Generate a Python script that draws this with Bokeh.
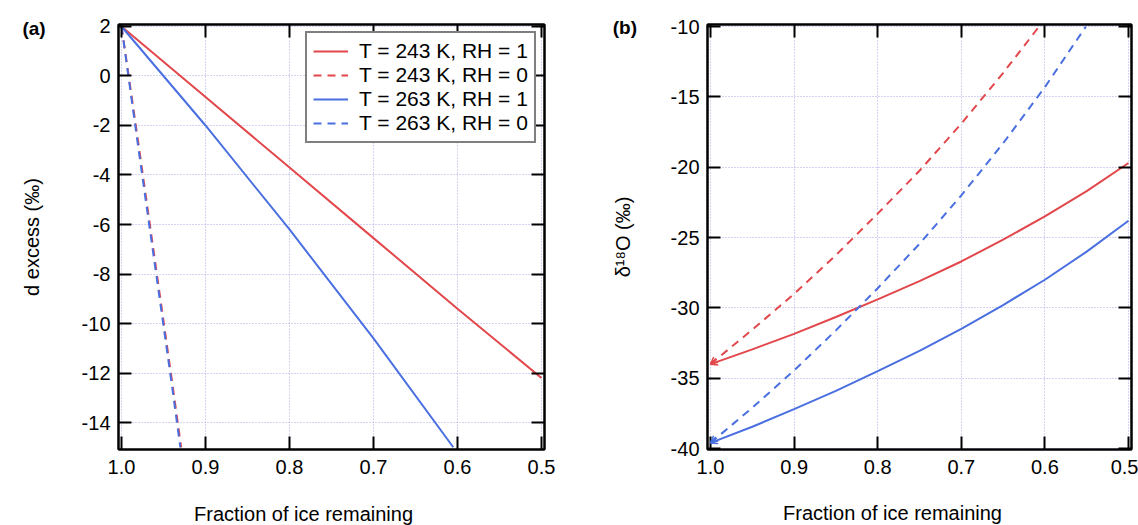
from bokeh.plotting import figure
from bokeh.layouts import row
from bokeh.models import (Range1d, FixedTicker, LinearAxis, NumeralTickFormatter,
                          CustomJSTickFormatter, Legend, LegendItem, Label,
                          Arrow, OpenHead)
from bokeh.embed import file_html
from bokeh.resources import INLINE

FONT = "Liberation Sans"
RED = "#e2474b"
BLUE = "#4a6fe0"
GRID = "#a8a8e4"

# ---------------- data: panel (a) d excess ----------------
f_a_red_rh1 = [1.0, 0.9, 0.8, 0.7, 0.6, 0.5]
dxs_red_rh1 = [2.0, -0.85, -3.7, -6.55, -9.4, -12.2]
f_a_red_rh0 = [1.0, 0.98, 0.96, 0.94, 0.929]
dxs_red_rh0 = [2.0, -2.7, -7.5, -12.3, -15.0]
f_a_blue_rh1 = [1.0, 0.9, 0.8, 0.7, 0.605]
dxs_blue_rh1 = [2.0, -2.0, -6.2, -10.6, -15.0]
f_a_blue_rh0 = [1.0, 0.98, 0.96, 0.94, 0.930]
dxs_blue_rh0 = [2.0, -2.9, -7.7, -12.5, -15.0]

# ---------------- data: panel (b) d18O ----------------
f_b_red_rh1 = [1.0, 0.95, 0.9, 0.85, 0.8, 0.75, 0.7, 0.65, 0.6, 0.55, 0.5]
d18_red_rh1 = [-34.0, -32.95, -31.85, -30.65, -29.4, -28.1, -26.7, -25.15, -23.5, -21.7, -19.7]
f_b_red_rh0 = [1.0, 0.95, 0.9, 0.85, 0.8, 0.75, 0.7, 0.65, 0.607]
d18_red_rh0 = [-34.0, -31.55, -29.0, -26.25, -23.3, -20.25, -16.9, -13.3, -10.0]
f_b_blue_rh1 = [1.0, 0.95, 0.9, 0.85, 0.8, 0.75, 0.7, 0.65, 0.6, 0.55, 0.5]
d18_blue_rh1 = [-39.6, -38.45, -37.2, -35.9, -34.5, -33.05, -31.5, -29.8, -28.0, -26.0, -23.8]
f_b_blue_rh0 = [1.0, 0.95, 0.9, 0.85, 0.8, 0.75, 0.7, 0.65, 0.6, 0.551]
d18_blue_rh0 = [-39.6, -37.1, -34.45, -31.6, -28.6, -25.45, -22.0, -18.3, -14.3, -10.0]

labels = ["T = 243 K, RH = 1", "T = 243 K, RH = 0", "T = 263 K, RH = 1", "T = 263 K, RH = 0"]
x_ticks = [1.0, 0.9, 0.8, 0.7, 0.6, 0.5]
y_ticks_a = [2, 0, -2, -4, -6, -8, -10, -12, -14]
y_ticks_b = [-10, -15, -20, -25, -30, -35, -40]
x_title = "Fraction of ice remaining"

H = 525
X_RANGE = (1.0036, 0.4964)


def style_axis(ax, ticks, show_labels=True):
    ax.ticker = FixedTicker(ticks=ticks)
    ax.axis_line_color = "black"
    ax.axis_line_width = 2
    ax.major_tick_in = 13
    ax.major_tick_out = 0
    ax.major_tick_line_width = 2
    ax.major_tick_line_color = "black"
    ax.minor_tick_line_color = None
    ax.major_label_text_font = FONT
    ax.major_label_text_font_size = "20px"
    ax.major_label_text_color = "black"
    ax.axis_label_text_font = FONT
    ax.axis_label_text_font_size = "20px"
    ax.axis_label_text_font_style = "normal"
    ax.axis_label_text_color = "black"
    if not show_labels:
        ax.formatter = CustomJSTickFormatter(code="return ''")
        ax.major_label_standoff = 0


def make_fig(width, yr, yticks, ylabel, mbl, mbr, panel, panel_xy, title_xy, ystandoff):
    p = figure(width=width, height=H, x_range=Range1d(*X_RANGE), y_range=Range1d(*yr),
               output_backend="svg", toolbar_location=None,
               min_border_left=mbl, min_border_right=mbr, min_border_top=24, min_border_bottom=76)
    p.outline_line_color = "black"
    p.outline_line_width = 2
    p.background_fill_color = "white"
    p.border_fill_color = "white"
    style_axis(p.xaxis[0], x_ticks)
    p.xaxis[0].formatter = NumeralTickFormatter(format="0.0")
    p.xaxis[0].major_label_standoff = 10
    style_axis(p.yaxis[0], yticks)
    p.yaxis[0].formatter = NumeralTickFormatter(format="0")
    p.yaxis[0].major_label_standoff = 8
    p.yaxis[0].axis_label = ylabel
    p.yaxis[0].axis_label_standoff = ystandoff
    for g, t in ((p.xgrid[0], x_ticks), (p.ygrid[0], yticks)):
        g.ticker = FixedTicker(ticks=t)
        g.grid_line_color = GRID
        g.grid_line_dash = "1 2"
        g.grid_line_width = 1
    top = LinearAxis()
    style_axis(top, x_ticks, show_labels=False)
    p.add_layout(top, "above")
    right = LinearAxis()
    style_axis(right, yticks, show_labels=False)
    p.add_layout(right, "right")
    # x-axis title (placed in the bottom panel so it is not clipped by the frame)
    p.add_layout(Label(x=title_xy[0], y=title_xy[1], text=x_title, text_font=FONT,
                       text_font_size="20px", text_color="black",
                       text_align="center", text_baseline="middle"), "below")
    # panel letter (placed in the top panel so it is not clipped by the frame)
    p.add_layout(Label(x=panel_xy[0], y=panel_xy[1], text=panel,
                       text_font=FONT, text_font_size="19px", text_font_style="bold",
                       text_color="black", text_baseline="middle", text_align="left"), "above")
    return p


# ---------------- panel (a) ----------------
pa = make_fig(578, (-15.09, 2.08), y_ticks_a, "d excess (‰)", 118, 34, "(a)",
              (1.118, 1.92), (0.7833, -17.68), 36)
ra1 = pa.line(f_a_red_rh1, dxs_red_rh1, line_color=RED, line_width=2)
ra2 = pa.line(f_a_red_rh0, dxs_red_rh0, line_color=RED, line_width=2, line_dash="8 6")
ra3 = pa.line(f_a_blue_rh1, dxs_blue_rh1, line_color=BLUE, line_width=2)
ra4 = pa.line(f_a_blue_rh0, dxs_blue_rh0, line_color=BLUE, line_width=2, line_dash="8 6")

legend = Legend(items=[LegendItem(label=l, renderers=[r]) for l, r in zip(labels, [ra1, ra2, ra3, ra4])],
                location=(187, 306), border_line_color="black", border_line_width=2,
                background_fill_color="white", background_fill_alpha=1,
                label_text_font=FONT, label_text_font_size="21px", label_text_color="black",
                glyph_width=35, glyph_height=20, label_height=20,
                label_standoff=11, padding=6, spacing=-1, margin=0)
pa.add_layout(legend)

# ---------------- panel (b) ----------------
pb = make_fig(560, (-40.07, -9.85), y_ticks_b, "δ¹⁸O (‰)", 129, 7, "(b)",
              (1.117, -10.06), (0.7823, -44.62), 34)
series_b = [(f_b_red_rh1, d18_red_rh1, RED, None), (f_b_red_rh0, d18_red_rh0, RED, "8 6"),
            (f_b_blue_rh1, d18_blue_rh1, BLUE, None), (f_b_blue_rh0, d18_blue_rh0, BLUE, "8 6")]
for fx, dy, c, dash in series_b:
    if dash:
        pb.line(fx, dy, line_color=c, line_width=2, line_dash=dash)
    else:
        pb.line(fx, dy, line_color=c, line_width=2)
for fx, dy, c, dash in series_b:
    pb.add_layout(Arrow(end=OpenHead(size=7, line_color=c, line_width=1.5),
                        x_start=fx[1], y_start=dy[1], x_end=fx[0], y_end=dy[0],
                        line_color=None))

layout = row(pa, pb)
open("out.html", "w").write(file_html(layout, INLINE))
